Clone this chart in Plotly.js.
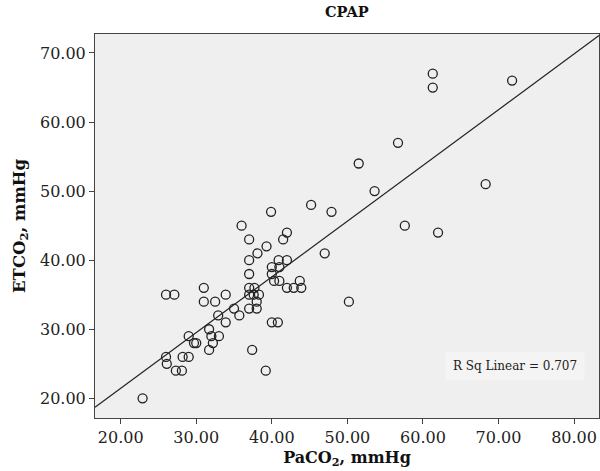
<!DOCTYPE html>
<html>
<head>
<meta charset="utf-8">
<script src="https://cdn.plot.ly/plotly-3.0.1.min.js"></script>
<style>html,body{margin:0;padding:0;background:#fff;}#chart{width:600px;height:471px;}</style>
</head>
<body>
<div id="chart"></div>
<script>
// PaCO2 (mmHg) values
const paco2 = [22.9, 26.0, 26.1, 27.3, 28.1, 28.2, 29.0, 26.0, 27.1, 29.0,
  29.7, 30.0, 31.0, 31.0, 32.5, 33.9, 31.7, 32.0, 33.0, 32.2,
  31.7, 32.9, 33.9, 35.0, 35.7, 36.0, 37.0, 39.3, 38.1, 37.0,
  37.0, 37.0, 37.7, 37.0, 37.6, 38.3, 38.0, 37.0, 38.0, 37.4,
  39.2, 39.9, 40.0, 40.0, 40.9, 41.0, 40.3, 41.0, 40.0, 40.8,
  41.5, 42.0, 42.0, 42.0, 42.9, 43.9, 43.7, 45.2, 47.9, 47.0,
  50.2, 51.5, 53.6, 56.7, 57.6, 62.0, 61.3, 61.3, 71.8, 68.3];
// ETCO2 (mmHg) values
const etco2 = [20, 26, 25, 24, 24, 26, 26, 35, 35, 29,
  28, 28, 36, 34, 34, 35, 30, 29, 29, 28,
  27, 32, 31, 33, 32, 45, 43, 42, 41, 40,
  38, 36, 36, 35, 35, 35, 34, 33, 33, 27,
  24, 47, 39, 38, 40, 39, 37, 37, 31, 31,
  43, 44, 40, 36, 36, 36, 37, 48, 47, 41,
  34, 54, 50, 57, 45, 44, 67, 65, 66, 51];
const xTicks = [20, 30, 40, 50, 60, 70, 80];
const yTicks = [20, 30, 40, 50, 60, 70];
const rSqLabel = "R Sq Linear = 0.707";

const xRange = [16.6, 83.3];
const yRange = [17.15, 72.75];

// least-squares fit from the data
const n = paco2.length;
const mx = paco2.reduce((a, b) => a + b, 0) / n;
const my = etco2.reduce((a, b) => a + b, 0) / n;
let sxy = 0, sxx = 0;
for (let i = 0; i < n; i++) { sxy += (paco2[i] - mx) * (etco2[i] - my); sxx += (paco2[i] - mx) ** 2; }
const slope = sxy / sxx;
const intercept = my - slope * mx;
const fitX = [xRange[0], xRange[1]];
const fitY = fitX.map(x => intercept + slope * x);

const serif = "DejaVu Serif, serif";
const traces = [
  {x: fitX, y: fitY, mode: "lines", type: "scatter", line: {color: "#222", width: 1.2}, hoverinfo: "skip", cliponaxis: true},
  {x: paco2, y: etco2, mode: "markers", type: "scatter",
   marker: {symbol: "circle-open", size: 9, color: "#222", line: {width: 1.3, color: "#222"}}}
];
const layout = {
  width: 600, height: 471,
  margin: {l: 95, r: 1, t: 34, b: 53},
  paper_bgcolor: "#ffffff", plot_bgcolor: "#efefef",
  showlegend: false,
  title: {text: "<b>CPAP</b>", x: 0.578, xanchor: "center", y: 0.975, yanchor: "middle", font: {family: serif, size: 14.5, color: "#111"}},
  xaxis: {range: xRange, tickvals: xTicks, ticktext: xTicks.map(v => v.toFixed(2)),
    showgrid: false, zeroline: false, showline: true, mirror: true, linecolor: "#444", linewidth: 1,
    ticks: "outside", ticklen: 5, tickcolor: "#444", tickfont: {family: serif, size: 16, color: "#222"},
    title: {text: "<b>PaCO<sub>2</sub>, mmHg</b>", font: {family: serif, size: 16, color: "#111"}, standoff: 5}},
  yaxis: {range: yRange, tickvals: yTicks, ticktext: yTicks.map(v => v.toFixed(2)),
    showgrid: false, zeroline: false, showline: true, mirror: true, linecolor: "#444", linewidth: 1,
    ticks: "outside", ticklen: 5, tickcolor: "#444", tickfont: {family: serif, size: 16, color: "#222"},
    title: {text: "<b>ETCO<sub>2</sub>, mmHg</b>", font: {family: serif, size: 16.5, color: "#111"}, standoff: 10}},
  annotations: [{text: rSqLabel, xref: "paper", yref: "paper", x: 0.973, y: 0.135, xanchor: "right", yanchor: "middle",
    showarrow: false, font: {family: serif, size: 12, color: "#222"}, bgcolor: "#f4f4f4", borderpad: 7}]
};
Plotly.newPlot("chart", traces, layout, {displayModeBar: false, staticPlot: true});
</script>
</body>
</html>
